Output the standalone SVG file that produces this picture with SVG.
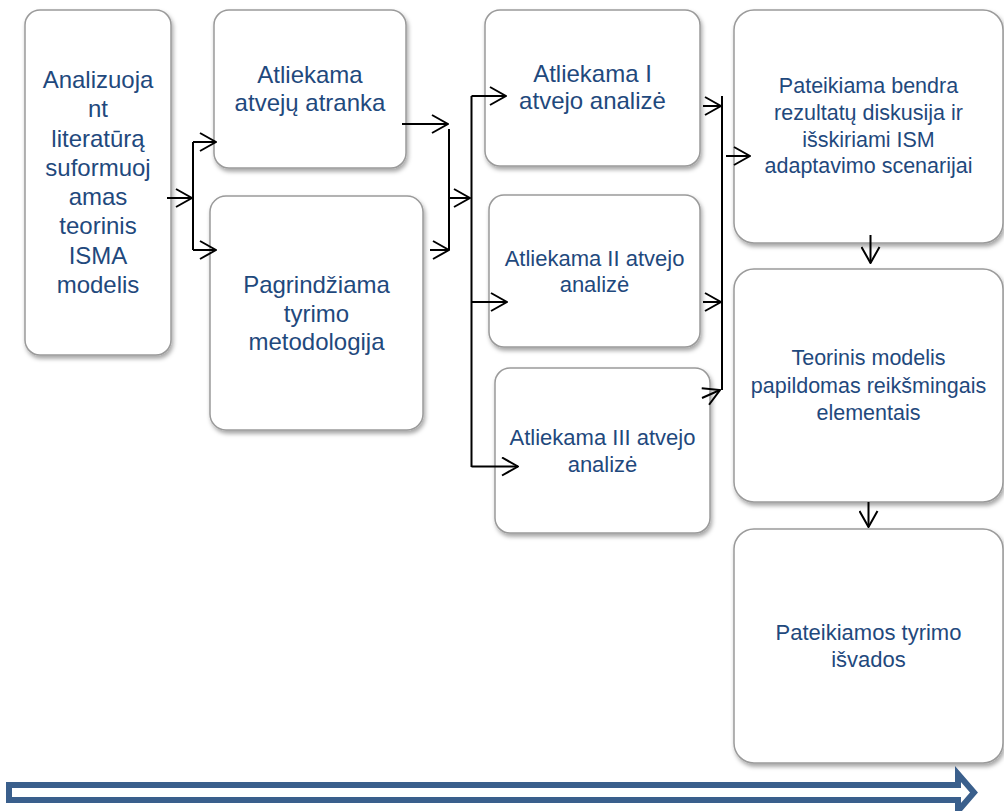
<svg xmlns="http://www.w3.org/2000/svg" width="1004" height="811" viewBox="0 0 1004 811">
<defs>
<filter id="sh" x="-10%" y="-10%" width="130%" height="130%">
<feDropShadow dx="1.5" dy="3" stdDeviation="2" flood-color="#000" flood-opacity="0.35"/>
</filter>
<marker id="ah" viewBox="0 0 18 20" markerWidth="18" markerHeight="20" refX="17" refY="10" orient="auto" markerUnits="userSpaceOnUse">
<path d="M1,1 L17,10 L1,19" fill="none" stroke="#000" stroke-width="2"/>
</marker>
</defs>
<style>
.box{fill:#fff;stroke:#9a9a9a;stroke-width:1.5;filter:url(#sh)}
.t{font-family:"Liberation Sans",Arial,sans-serif;fill:#1F497D;text-anchor:middle}
.c{fill:none;stroke:#000;stroke-width:2}
</style>
<rect width="1004" height="811" fill="#fff"/>
<g id="nodeA">
<rect class="box" x="25" y="10" width="146" height="345" rx="15"/>
<text class="t" font-size="24"><tspan x="98" y="88">Analizuoja</tspan><tspan x="98" y="117">nt</tspan><tspan x="98" y="147">literatūrą</tspan><tspan x="98" y="176">suformuoj</tspan><tspan x="98" y="205">amas</tspan><tspan x="98" y="234">teorinis</tspan><tspan x="98" y="264">ISMA</tspan><tspan x="98" y="293">modelis</tspan></text>
</g>
<g id="nodeB">
<rect class="box" x="214" y="10" width="192" height="158" rx="15"/>
<text class="t" font-size="24"><tspan x="310" y="83">Atliekama</tspan><tspan x="310" y="111">atvejų atranka</tspan></text>
</g>
<g id="nodeC">
<rect class="box" x="210" y="196" width="213" height="234" rx="16"/>
<text class="t" font-size="24"><tspan x="316.5" y="293">Pagrindžiama</tspan><tspan x="316.5" y="322">tyrimo</tspan><tspan x="316.5" y="350">metodologija</tspan></text>
</g>
<g id="nodeI">
<rect class="box" x="485" y="10" width="215" height="156" rx="15"/>
<text class="t" font-size="24"><tspan x="592.5" y="82">Atliekama I</tspan><tspan x="592.5" y="109">atvejo analizė</tspan></text>
</g>
<g id="nodeII">
<rect class="box" x="489" y="195" width="211" height="152" rx="15"/>
<text class="t" font-size="22"><tspan x="594.5" y="266">Atliekama II atvejo</tspan><tspan x="594.5" y="292">analizė</tspan></text>
</g>
<g id="nodeIII">
<rect class="box" x="495" y="368" width="215" height="165" rx="15"/>
<text class="t" font-size="22"><tspan x="602.5" y="445">Atliekama III atvejo</tspan><tspan x="602.5" y="472">analizė</tspan></text>
</g>
<g id="nodeP">
<rect class="box" x="734" y="10" width="269" height="233" rx="20"/>
<text class="t" font-size="21.5"><tspan x="868.5" y="93">Pateikiama bendra</tspan><tspan x="868.5" y="120">rezultatų diskusija ir</tspan><tspan x="868.5" y="147">išskiriami ISM</tspan><tspan x="868.5" y="173">adaptavimo scenarijai</tspan></text>
</g>
<g id="nodeT">
<rect class="box" x="734" y="269" width="269" height="233" rx="20"/>
<text class="t" font-size="21.5"><tspan x="868.5" y="365">Teorinis modelis</tspan><tspan x="868.5" y="393">papildomas reikšmingais</tspan><tspan x="868.5" y="420">elementais</tspan></text>
</g>
<g id="nodeV">
<rect class="box" x="734" y="529" width="269" height="234" rx="20"/>
<text class="t" font-size="22"><tspan x="868.5" y="640">Pateikiamos tyrimo</tspan><tspan x="868.5" y="667">išvados</tspan></text>
</g>
<g id="connectors">
<path class="c" d="M167,198 H192" marker-end="url(#ah)"/>
<path class="c" d="M193,142 V250"/>
<path class="c" d="M193,142 H216" marker-end="url(#ah)"/>
<path class="c" d="M193,250 H216" marker-end="url(#ah)"/>
<path class="c" d="M402,124 H448" marker-end="url(#ah)"/>
<path class="c" d="M449,129 V250"/>
<path class="c" d="M430,250 H449" marker-end="url(#ah)"/>
<path class="c" d="M449,198 H470" marker-end="url(#ah)"/>
<path class="c" d="M471.5,96 V467"/>
<path class="c" d="M471.5,96 H506" marker-end="url(#ah)"/>
<path class="c" d="M471.5,302 H507" marker-end="url(#ah)"/>
<path class="c" d="M471.5,466.5 H518" marker-end="url(#ah)"/>
<path class="c" d="M722,96 V390"/>
<path class="c" d="M703,106 H721" marker-end="url(#ah)"/>
<path class="c" d="M703,302 H721" marker-end="url(#ah)"/>
<path class="c" d="M702,398 L720,390" marker-end="url(#ah)"/>
<path class="c" d="M726,156 H750" marker-end="url(#ah)"/>
<path class="c" d="M870.5,235 V263" marker-end="url(#ah)"/>
<path class="c" d="M868.5,502 V527" marker-end="url(#ah)"/>
</g>
<g id="timeline">
<polygon points="9,785 958,785 958,774 974,792.5 958,811 958,800 9,800" fill="#fff" stroke="#3A5F8C" stroke-width="6" stroke-linejoin="miter"/>
</g>
</svg>
